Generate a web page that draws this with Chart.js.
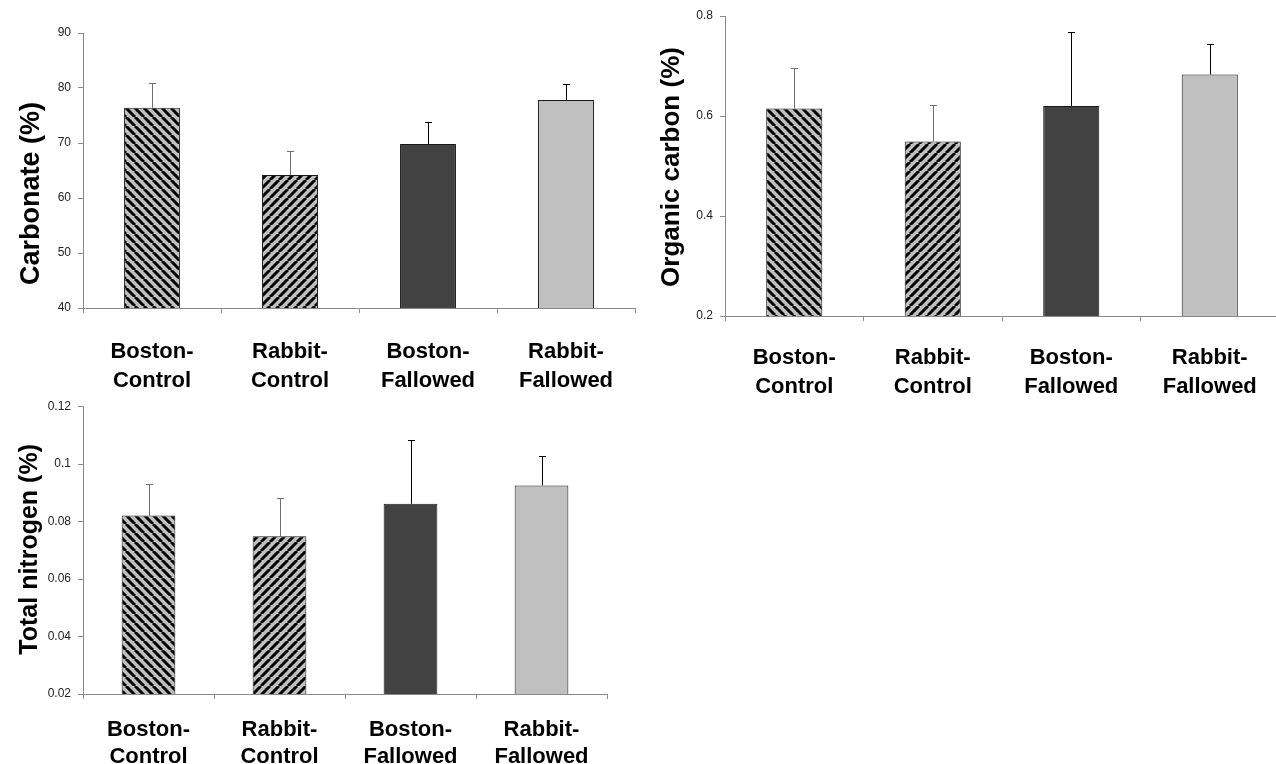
<!DOCTYPE html>
<html>
<head>
<meta charset="utf-8">
<script src="https://cdn.jsdelivr.net/npm/chart.js@4.4.1/dist/chart.umd.min.js"></script>
<style>
  html, body { margin: 0; padding: 0; background: #fff; overflow: hidden; width: 1276px; height: 764px; }
  canvas { position: absolute; }
</style>
</head>
<body>
<canvas id="carb" width="640" height="400" style="left:0;top:0"></canvas>
<canvas id="orgc" width="650" height="400" style="left:640px;top:0"></canvas>
<canvas id="totn" width="640" height="384" style="left:0;top:380px"></canvas>
<script>
// Treatments (x categories)
const categories = [["Boston-", "Control"], ["Rabbit-", "Control"], ["Boston-", "Fallowed"], ["Rabbit-", "Fallowed"]];

// Carbonate (%)
const carbonateMean = [76.4, 64.2, 69.8, 77.8];
const carbonateErr  = [4.6, 4.4, 4.0, 3.0];
const carbonateTicks = [40, 50, 60, 70, 80, 90];

// Organic carbon (%)
const organicMean = [0.615, 0.549, 0.620, 0.683];
const organicErr  = [0.081, 0.074, 0.148, 0.061];
const organicTicks = [0.2, 0.4, 0.6, 0.8];

// Total nitrogen (%)
const nitrogenMean = [0.0821, 0.0749, 0.0862, 0.0926];
const nitrogenErr  = [0.0111, 0.0132, 0.0221, 0.0103];
const nitrogenTicks = [0.02, 0.04, 0.06, 0.08, 0.1, 0.12];

const FONT = '"Liberation Sans", Arial, Helvetica, sans-serif';
const AXIS = '#8a8a8a';

// Diagonal hatch fills: grey ground with black stripes
function hatch(down) {
  const s = 9;
  const c = document.createElement('canvas');
  c.width = s; c.height = s;
  const g = c.getContext('2d');
  g.fillStyle = '#c0c0c0';
  g.fillRect(0, 0, s, s);
  g.strokeStyle = '#000';
  g.lineWidth = 3;
  g.beginPath();
  for (let k = -1; k <= 1; k++) {
    if (down) { g.moveTo(k * s, 0); g.lineTo(k * s + s, s); }
    else { g.moveTo(k * s, s); g.lineTo(k * s + s, 0); }
  }
  g.stroke();
  return g.createPattern(c, 'repeat');
}

const fills = [hatch(true), hatch(false), '#424242', '#c0c0c0'];
const errColors = ['#6e6e6e', '#6e6e6e', '#000', '#000'];

// Upper error whiskers with a short cap
const errorBars = {
  id: 'errorBars',
  afterDatasetsDraw(chart) {
    const { ctx } = chart;
    const ds = chart.data.datasets[0];
    const y = chart.scales.y;
    chart.getDatasetMeta(0).data.forEach((bar, i) => {
      const top = Math.round(y.getPixelForValue(ds.data[i] + ds.errors[i])) + 0.5;
      const x = Math.round(bar.x) + 0.5;
      ctx.save();
      ctx.strokeStyle = errColors[i];
      ctx.lineWidth = 1;
      ctx.beginPath();
      ctx.moveTo(x, bar.y);
      ctx.lineTo(x, top);
      ctx.moveTo(x - 3.5, top);
      ctx.lineTo(x + 3.5, top);
      ctx.stroke();
      ctx.restore();
    });
  }
};

// Rotated bold y-axis title
const yTitle = {
  id: 'yTitle',
  afterDraw(chart, args, opts) {
    const { ctx, chartArea } = chart;
    ctx.save();
    ctx.translate(opts.x, (chartArea.top + chartArea.bottom) / 2 + opts.shift);
    ctx.rotate(-Math.PI / 2);
    ctx.font = 'bold ' + opts.size + 'px ' + FONT;
    ctx.fillStyle = '#000';
    ctx.textAlign = 'center';
    ctx.textBaseline = 'middle';
    ctx.fillText(opts.text, 0, 0);
    ctx.restore();
  }
};

function makeChart(id, cfg) {
  return new Chart(document.getElementById(id), {
    type: 'bar',
    data: {
      labels: categories,
      datasets: [{
        data: cfg.mean,
        errors: cfg.err,
        backgroundColor: fills,
        borderColor: '#1a1a1a',
        borderWidth: 1,
        borderSkipped: false,
        barPercentage: cfg.barPct,
        categoryPercentage: 1
      }]
    },
    options: {
      responsive: false,
      animation: false,
      devicePixelRatio: 1,
      layout: { padding: cfg.padding },
      plugins: {
        legend: { display: false },
        tooltip: { enabled: false },
        yTitle: cfg.title
      },
      scales: {
        x: {
          grid: { display: true, drawOnChartArea: false, drawTicks: true, tickLength: 5, color: AXIS, offset: true },
          border: { display: true, color: AXIS, width: 1 },
          ticks: {
            color: '#000',
            padding: cfg.xPad,
            maxRotation: 0,
            autoSkip: false,
            font: { family: FONT, size: 22, weight: 'bold', lineHeight: cfg.xLine }
          },
          afterFit(s) { s.height = cfg.xHeight; }
        },
        y: {
          min: cfg.ticks[0],
          max: cfg.ticks[cfg.ticks.length - 1],
          grid: { display: true, drawOnChartArea: false, drawTicks: true, tickLength: 5, color: AXIS },
          border: { display: true, color: AXIS, width: 1 },
          afterBuildTicks(s) { s.ticks = cfg.ticks.map(v => ({ value: v })); },
          ticks: {
            color: '#222',
            padding: 7,
            font: { family: FONT, size: 12 },
            callback: v => String(+v.toFixed(4))
          },
          afterFit(s) { s.width = cfg.yWidth; }
        }
      }
    },
    plugins: [errorBars, yTitle]
  });
}

makeChart('carb', {
  mean: carbonateMean, err: carbonateErr, ticks: carbonateTicks,
  padding: { top: 33, right: 5, bottom: 0, left: 0 },
  yWidth: 83, xHeight: 92, xPad: 25, xLine: 1.3, barPct: 0.405,
  title: { text: 'Carbonate (%)', x: 32, shift: 23, size: 27 }
});

makeChart('orgc', {
  mean: organicMean, err: organicErr, ticks: organicTicks,
  padding: { top: 16, right: 11, bottom: 0, left: 0 },
  yWidth: 85, xHeight: 84, xPad: 23, xLine: 1.3, barPct: 0.405,
  title: { text: 'Organic carbon (%)', x: 32, shift: 1, size: 26 }
});

makeChart('totn', {
  mean: nitrogenMean, err: nitrogenErr, ticks: nitrogenTicks,
  padding: { top: 26.7, right: 33, bottom: 0, left: 0 },
  yWidth: 83, xHeight: 70, xPad: 18, xLine: 1.2, barPct: 0.41,
  title: { text: 'Total nitrogen (%)', x: 30, shift: -1, size: 25 }
});
</script>
</body>
</html>
